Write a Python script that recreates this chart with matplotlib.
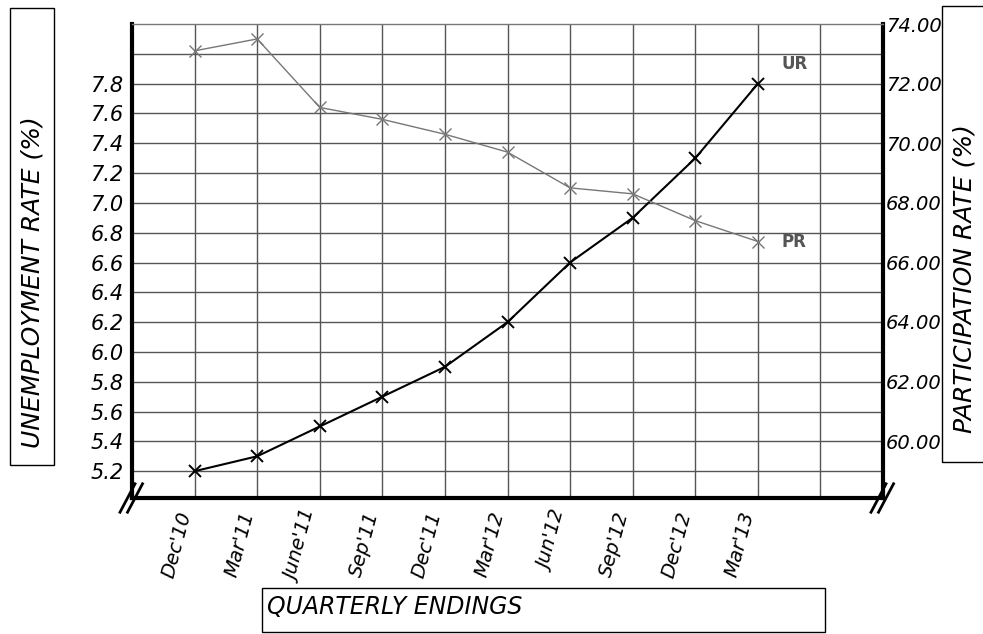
import numpy as np
import matplotlib
matplotlib.use('Agg')
import matplotlib.pyplot as plt

quarters = ["Dec'10", "Mar'11", "June'11", "Sep'11", "Dec'11",
            "Mar'12", "Jun'12", "Sep'12", "Dec'12", "Mar'13"]
ur = [5.2, 5.3, 5.5, 5.7, 5.9, 6.2, 6.6, 6.9, 7.3, 7.8]
pr = [73.1, 73.5, 71.2, 70.8, 70.3, 69.7, 68.5, 68.3, 67.4, 66.7]
ur_ticks = [5.2, 5.4, 5.6, 5.8, 6.0, 6.2, 6.4, 6.6, 6.8, 7.0, 7.2, 7.4, 7.6, 7.8, 8.0]
ur_ticklabels = ['5.2', '5.4', '5.6', '5.8', '6.0', '6.2', '6.4', '6.6', '6.8',
                 '7.0', '7.2', '7.4', '7.6', '7.8', '']
pr_ticks = [60, 62, 64, 66, 68, 70, 72, 74]

hand = {'family': 'DejaVu Sans', 'style': 'italic'}

fig = plt.figure(figsize=(9.83, 6.34), dpi=100)
ax = fig.add_axes([0.1343, 0.2145, 0.764, 0.7476])
x = np.arange(len(quarters))

ax.plot(x, ur, color='k', linewidth=1.5, marker='x', markersize=8,
        markeredgewidth=1.4, zorder=3)
ax.set_xlim(-1, 11)
ax.set_ylim(5.02, 8.2)
ax.set_xticks(list(x) + [10])
ax.set_xticklabels(quarters + [''], rotation=75, ha='right', fontsize=14, **hand)
ax.set_yticks(ur_ticks)
ax.set_yticklabels(ur_ticklabels, fontsize=15, **hand)
ax.tick_params(length=0, pad=6)
ax.tick_params(axis='x', pad=8)
ax.grid(color='#555555', linestyle='-', linewidth=1.0)
ax.set_axisbelow(True)
for s in ['left', 'bottom', 'right']:
    ax.spines[s].set_linewidth(3)
ax.spines['top'].set_linewidth(1)
ax.spines['top'].set_color('#777777')

ax2 = ax.twinx()
ax2.plot(x, pr, color='#777777', linewidth=1.0, marker='x', markersize=8,
         markeredgewidth=1.0, zorder=3)
ax2.set_ylim(58.09, 74)
ax2.set_yticks(pr_ticks)
ax2.set_yticklabels(['%.2f' % t for t in pr_ticks], fontsize=14, **hand)
ax2.tick_params(length=0, pad=2)
for s in ax2.spines.values():
    s.set_visible(False)

# series labels
ax.text(9.38, ur[-1] + 0.13, 'UR', fontsize=12, fontweight='bold',
        color='#555555', va='center')
ax2.text(9.38, pr[-1], 'PR', fontsize=12, fontweight='bold', color='#555555',
         va='center')

# axis break marks
for cx in [0.0, 1.0]:
    for dx in [-0.006, 0.004]:
        ax.plot([cx + dx - 0.01, cx + dx + 0.01], [-0.03, 0.03],
                transform=ax.transAxes, color='k', linewidth=2, clip_on=False)

# boxed axis titles
boxes = [(0.0102, 0.2666, 0.0447, 0.7204),
         (0.958, 0.271, 0.05, 0.7195),
         (0.2665, 0.003, 0.5727, 0.07)]
for bx, by, bw, bh in boxes:
    fig.patches.append(plt.Rectangle((bx, by), bw, bh, transform=fig.transFigure,
                                     fill=False, ec='k', lw=1))
fig.text(0.033, 0.555, 'UNEMPLOYMENT RATE (%)', rotation=90, ha='center',
         va='center', fontsize=18, **hand)
fig.text(0.981, 0.56, 'PARTICIPATION RATE (%)', rotation=90, ha='center',
         va='center', fontsize=18, **hand)
fig.text(0.272, 0.042, 'QUARTERLY ENDINGS', ha='left', va='center',
         fontsize=17, **hand)

fig.savefig('out.png', dpi=100)
